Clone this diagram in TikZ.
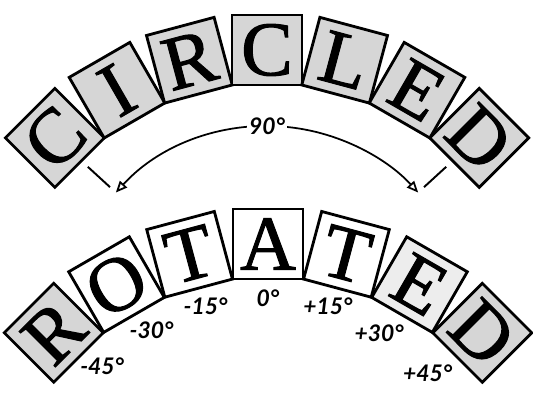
\documentclass[tikz,border=0pt]{standalone}
\usepackage{fontspec}
\setmainfont{Liberation Serif}
\newfontfamily\tilefont{Liberation Serif}[FakeBold=1.3]
\newfontfamily\degfont{Lato}
\usetikzlibrary{arrows.meta,calc}

\begin{document}
\begin{tikzpicture}[
  tile/.style={draw, line width=1.6pt, minimum size=1.4cm, inner sep=0pt,
               fill=white, font=\tilefont\fontsize{44}{44}\selectfont},
  grey/.style={tile, fill=black!16},
  light/.style={tile, fill=black!7},
  deg/.style={font=\degfont\bfseries\itshape\fontsize{13}{13}\selectfont, inner sep=0pt},
  ar/.style={{Triangle[open,length=6.5pt,width=5.5pt]}-{Triangle[open,length=6.5pt,width=5.5pt]},
             line width=1pt},
  radial/.style={line width=1.1pt}]
\useasboundingbox (0,0) rectangle (10.66,8.1);
\coordinate (top) at (5.34,1.10);
\coordinate (bot) at (5.36,-2.84);
\coordinate (mid) at (5.34,1.48);
% circled
\node[grey,rotate=45]  (topC)  at ($(top)+(135:6)$) {C};
\node[grey,rotate=30]  (topI)  at ($(top)+(120:6)$) {I};
\node[grey,rotate=15]  (topR)  at ($(top)+(105:6)$) {R};
\node[grey]            (topC2) at ($(top)+(90:6)$)  {C};
\node[grey,rotate=-15] (topL)  at ($(top)+(75:6)$)  {L};
\node[grey,rotate=-30] (topE)  at ($(top)+(60:6)$)  {E};
\node[grey,rotate=-45] (topD)  at ($(top)+(45:6)$)  {D};
% the 90 degree span
\coordinate (al) at ($(mid)+(137.5:4.1)$);
\coordinate (tl1) at ($(mid)+(137.5:4.26)$);
\coordinate (tl2) at ($(mid)+(137.5:4.86)$);
\coordinate (tr1) at ($(mid)+(42.5:4.26)$);
\coordinate (tr2) at ($(mid)+(42.5:4.86)$);
\draw[ar] (al) arc[start angle=137.5, end angle=42.5, radius=4.1];
\node[deg, fill=white, inner sep=1pt] (span) at ($(mid)+(90:4.1)$) {90°};
\draw[radial] (tl1) -- (tl2);
\draw[radial] (tr1) -- (tr2);
% rotated
\node[grey,rotate=45]  (botR)  at ($(bot)+(135:6.06)$) {R};
\node[tile,rotate=30]  (botO)  at ($(bot)+(120:6.06)$) {O};
\node[tile,rotate=15]  (botT)  at ($(bot)+(105:6.06)$) {T};
\node[tile]            (botA)  at ($(bot)+(90:6.06)$)  {A};
\node[tile,rotate=-15] (botT2) at ($(bot)+(75:6.06)$)  {T};
\node[light,rotate=-30] (botE) at ($(bot)+(60:6.06)$)  {E};
\node[grey,rotate=-45] (botD)  at ($(bot)+(45:6.06)$)  {D};
\node[deg] (m45) at ($(bot)+(132.6:4.9)$)  {-45°};
\node[deg] (m30) at ($(bot)+(118.2:4.93)$) {-30°};
\node[deg] (m15) at ($(bot)+(104.5:4.98)$) {-15°};
\node[deg] (z0)  at ($(bot)+(90:4.98)$)    {0°};
\node[deg] (p15) at ($(bot)+(76:4.96)$)    {+15°};
\node[deg] (p30) at ($(bot)+(62.5:4.82)$)  {+30°};
\node[deg] (p45) at ($(bot)+(47.4:4.72)$)  {+45°};
\end{tikzpicture}
\end{document}
